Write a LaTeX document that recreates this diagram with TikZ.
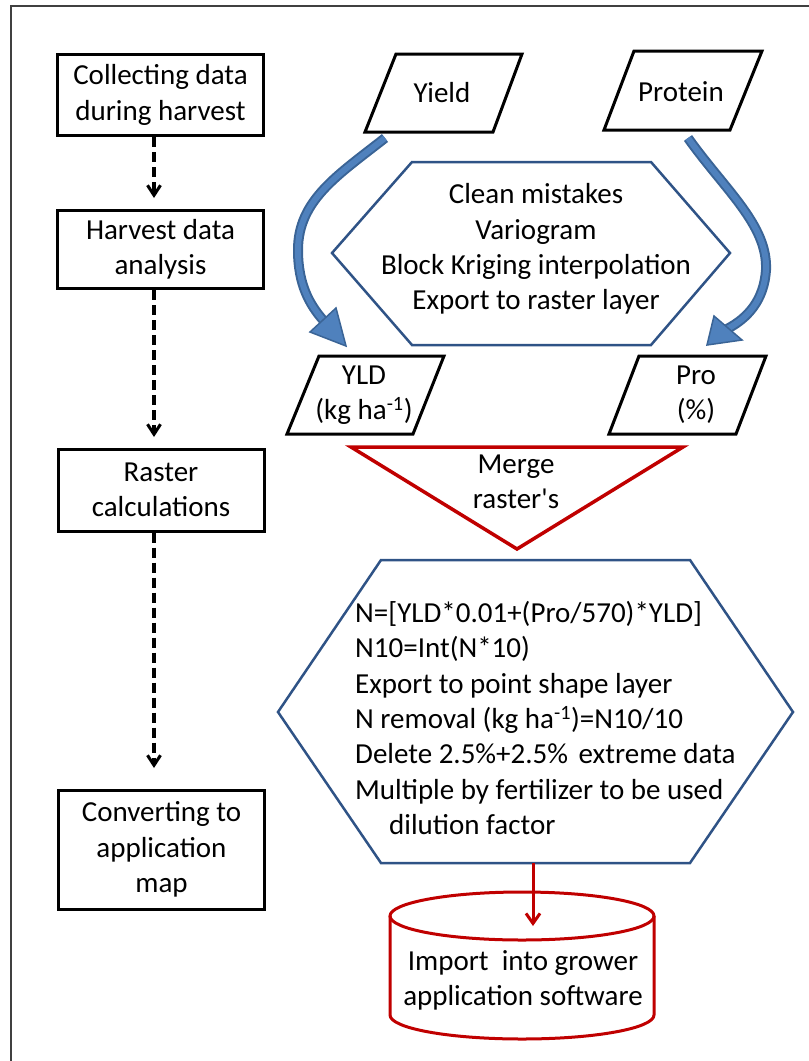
\documentclass[tikz,border=0pt]{standalone}
\usepackage{fontspec}
\setmainfont{Carlito}
\usetikzlibrary{arrows.meta}
\definecolor{hexblue}{HTML}{2F5386}
\definecolor{arrowfill}{HTML}{4F81BD}
\definecolor{arrowline}{HTML}{3A6496}
\definecolor{mred}{HTML}{C00000}
\definecolor{framegray}{HTML}{404040}
\newcommand\fs{\fontsize{29}{35.3}\selectfont}
\begin{document}
\begin{tikzpicture}[x=1pt,y=-1pt,
  lbox/.style={draw=black, line width=3pt, minimum width=206pt, align=center, font=\fs, inner sep=0pt},
  txt/.style={font=\fs, align=center, inner sep=0pt},
  pbox/.style={draw=black, line width=3pt, line join=miter},
  hexbox/.style={draw=hexblue, line width=2.5pt, line join=miter},
  redline/.style={draw=mred, line width=3pt},
  darr/.style={line width=3.2pt, dash pattern=on 10pt off 5pt, -{Straight Barb[length=10pt,width=13pt,line width=3pt]}},
  rarr/.style={draw=mred, line width=3pt, -{Straight Barb[length=10pt,width=14pt,line width=3pt]}},
  bshaftout/.style={draw=arrowline, line width=10pt},
  bshaftin/.style={draw=arrowfill, line width=6pt},
  bhead/.style={fill=arrowfill, draw=arrowline, line width=1.5pt, line join=miter}
]
\useasboundingbox (0,0) rectangle (809,1061);
% frame
\draw[framegray, line width=2pt] (11,1061) -- (11,6) -- (809,6);

% left column
\node[lbox, minimum height=81pt] (b1) at (160.5,95) {Collecting data\\during harvest};
\node[lbox, minimum height=78pt] (b2) at (160.5,249.5) {Harvest data\\analysis};
\node[lbox, minimum height=82pt] (b3) at (161,490) {Raster\\calculations};
\node[lbox, minimum height=119pt] (b4) at (161.5,849.5) {Converting to\\application\\map};
\coordinate (t1) at (154,198);
\coordinate (t2) at (154,437);
\coordinate (t3) at (154,768);
\draw[darr] (t1 |- b1.south) -- (t1);
\draw[darr] (t2 |- b2.south) -- (t2);
\draw[darr] (t3 |- b3.south) -- (t3);

% inputs
\draw[pbox] (396,54) -- (522,54) -- (493,132) -- (365,132) -- cycle;
\node[txt] (yield) at (442,93) {Yield};
\draw[pbox] (634,51) -- (762,51) -- (730,130) -- (604,130) -- cycle;
\node[txt] (protein) at (681,92) {Protein};

% hexagon 1
\draw[hexbox] (412,162) -- (651,162) -- (730,253) -- (651,345) -- (412,345) -- (332,253) -- cycle;
\node[txt] (hex1) at (536,249) {Clean mistakes\\Variogram\\Block Kriging interpolation\\Export to raster layer};

% blue curved arrows
\coordinate (ys) at (385,138);
\coordinate (ye) at (323,320);
\coordinate (ps) at (688,138);
\coordinate (pe) at (727,329);
\draw[bshaftout] (ys) .. controls (338,175) and (298,200) .. (298,250) .. controls (298,285) and (310,305) .. (ye);
\draw[bshaftin] (ys) .. controls (338,175) and (298,200) .. (298,250) .. controls (298,285) and (310,305) .. (ye);
\draw[bhead] (336,308) -- (346,346) -- (310,332) -- cycle;
\draw[bshaftout] (ps) .. controls (725,190) and (768,225) .. (766,270) .. controls (764,300) and (748,318) .. (pe);
\draw[bshaftin] (ps) .. controls (725,190) and (768,225) .. (766,270) .. controls (764,300) and (748,318) .. (pe);
\draw[bhead] (714,316) -- (707,345) -- (742,340) -- cycle;

% outputs
\draw[pbox] (319,356) -- (444,356) -- (413,434) -- (287,434) -- cycle;
\node[txt] (yld) at (364,395) {YLD\\(kg ha\textsuperscript{-1})};
\draw[pbox] (639,356) -- (766,356) -- (736,434) -- (609,434) -- cycle;
\node[txt] (pro) at (696,395) {Pro\\(\%)};

% merge triangle
\draw[redline, line width=3.5pt, line join=miter] (351,447) -- (683,447) -- (517,549) -- cycle;
\node[txt] (merge) at (516,482) {Merge\\raster\textquotesingle s};

% hexagon 2
\draw[hexbox] (381,560) -- (690,560) -- (793,712) -- (690,863) -- (381,863) -- (278,712) -- cycle;
\node[txt, align=left, anchor=west] (hex2) at (355,718) {N=[YLD*0.01+(Pro/570)*YLD]\\
N10=Int(N*10)\\
Export to point shape layer\\
N removal (kg ha\textsuperscript{-1})=N10/10\\
Delete 2.5\%+2.5\%\hspace{4pt} extreme data\\
Multiple by fertilizer to be used\\
\hspace*{34pt}dilution factor};

% cylinder
\draw[redline] (390,916) -- (390,1015) arc[start angle=180, end angle=360, x radius=132pt, y radius=24pt] -- (654,916);
\draw[redline] (522,916) ellipse [x radius=132pt, y radius=24pt];
\node[txt] (cyl) at (523,980) {Import\ \ into grower\\application software};

\coordinate (h2b) at (533,863);
\coordinate (cyltop) at (533,926);
\draw[rarr] (h2b) -- (cyltop);
\end{tikzpicture}
\end{document}
